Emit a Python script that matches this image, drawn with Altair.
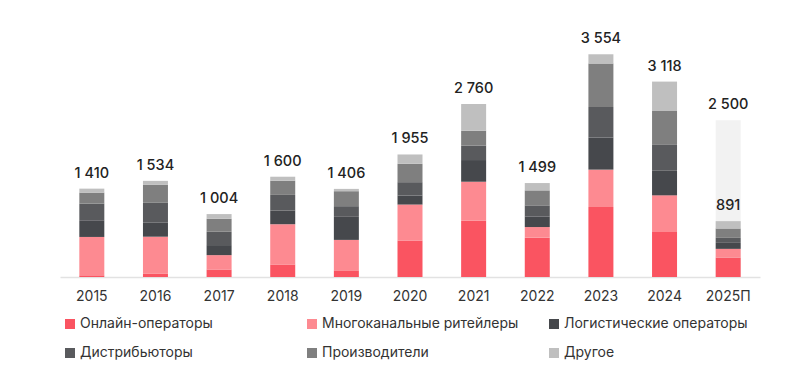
import altair as alt
import pandas as pd

years = ["2015", "2016", "2017", "2018", "2019", "2020", "2021", "2022", "2023", "2024", "2025П"]
categories = ["Онлайн-операторы", "Многоканальные ритейлеры", "Логистические операторы",
              "Дистрибьюторы", "Производители", "Другое"]
colors = ["#fa5461", "#fd8a91", "#46484c", "#595a5d", "#7f7f7f", "#bfbfbf"]

online = [27, 53, 120, 197, 106, 581, 898, 627, 1117, 718, 310]
multichannel = [612, 590, 229, 645, 486, 575, 622, 170, 596, 585, 139]
logistics = [266, 223, 160, 218, 368, 144, 346, 170, 511, 399, 96]
distributors = [266, 324, 213, 250, 170, 213, 229, 176, 489, 415, 80]
producers = [176, 280, 207, 226, 239, 293, 239, 239, 692, 532, 149]
other = [63, 64, 75, 64, 37, 149, 426, 117, 149, 469, 117]

totals = [1410, 1534, 1004, 1600, 1406, 1955, 2760, 1499, 3554, 3118, 891]
forecast_year = ["2025П"]
forecast_value = [2500]

series = [online, multichannel, logistics, distributors, producers, other]
rows = []
for ci, (cat, vals) in enumerate(zip(categories, series)):
    for y, v in zip(years, vals):
        rows.append({"year": y, "category": cat, "value": v, "order": ci})
df = pd.DataFrame(rows)

fmt = lambda v: f"{v:,}".replace(",", "\u00a0")
tot_df = pd.DataFrame({"year": years, "total": totals, "label": [fmt(t) for t in totals]})
fc_df = pd.DataFrame({"year": forecast_year, "value": forecast_value,
                      "label": [fmt(v) for v in forecast_value]})

FONT = "Inter"
yscale = alt.Scale(domain=[0, 4005], nice=False)
xenc = alt.X("year:N", sort=years, title=None,
             scale=alt.Scale(paddingInner=0, paddingOuter=0),
             axis=alt.Axis(labelAngle=0, ticks=False, labelPadding=12, labelFontSize=14,
                           labelColor="#333333", labelFont=FONT, domainColor="#e2e2e2",
                           domainWidth=1.5, grid=False))

bg = alt.Chart(fc_df).mark_bar(size=25, color="#f2f2f2").encode(
    x=xenc, y=alt.Y("value:Q", scale=yscale, axis=None))

bars = alt.Chart(df).mark_bar(size=25).encode(
    x=xenc,
    y=alt.Y("sum(value):Q", scale=yscale, axis=None, stack="zero"),
    color=alt.Color("category:N", sort=categories,
                    scale=alt.Scale(domain=categories, range=colors),
                    legend=alt.Legend(title=None, orient="none", legendX=3, legendY=291,
                                      direction="horizontal", columns=3, gridAlign="all",
                                      columnPadding=28, rowPadding=15,
                                      symbolType="square", symbolSize=100,
                                      symbolStrokeWidth=0, labelFontSize=14,
                                      labelColor="#333333", labelFont=FONT,
                                      labelOffset=3, labelLimit=300)),
    order=alt.Order("order:Q", sort="ascending"),
)

labels = alt.Chart(tot_df).mark_text(baseline="bottom", dy=-8, fontSize=14.5, color="#222222",
                                     font=FONT, fontWeight=500).encode(
    x=alt.X("year:N", sort=years), y=alt.Y("total:Q", scale=yscale), text="label:N")

fc_labels = alt.Chart(fc_df).mark_text(baseline="bottom", dy=-8, fontSize=14.5, color="#222222",
                                       font=FONT, fontWeight=500).encode(
    x=alt.X("year:N", sort=years), y=alt.Y("value:Q", scale=yscale), text="label:N")

chart = alt.layer(bg, bars, labels, fc_labels).properties(
    width=700, height=251,
    padding={"left": 52, "top": 18, "right": 20, "bottom": 5},
).configure_view(stroke=None)

chart.save("out.html", embed_options={"renderer": "svg", "actions": False})
